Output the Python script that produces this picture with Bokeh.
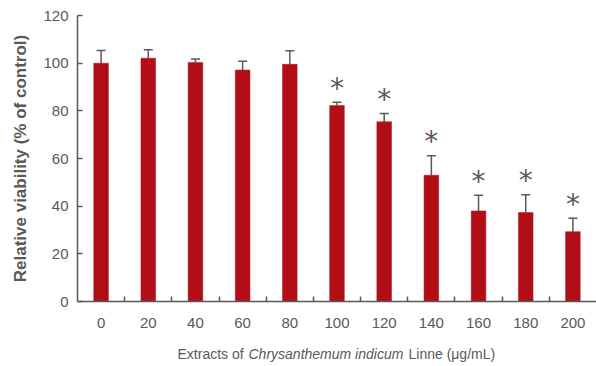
from bokeh.plotting import figure
from bokeh.layouts import column
from bokeh.models import Range1d, FixedTicker, Whisker, TeeHead, ColumnDataSource
from bokeh.core.properties import value
from bokeh.embed import file_html
from bokeh.resources import INLINE

# Cell viability after treatment with extract (mean, upper error)
concentrations = [0, 20, 40, 60, 80, 100, 120, 140, 160, 180, 200]
viability = [100.0, 102.1, 100.3, 97.1, 99.5, 82.2, 75.4, 53.0, 38.0, 37.3, 29.3]
error_top = [105.3, 105.6, 101.7, 100.8, 105.2, 83.6, 78.9, 61.2, 44.6, 44.8, 34.9]
significant = [False, False, False, False, False, True, True, True, True, True, True]
y_ticks = [0, 20, 40, 60, 80, 100, 120]

# x-axis title pieces: (text, style)
x_title = [("Extracts of", "normal"),
           ("Chrysanthemum indicum", "italic"),
           ("Linne (μg/mL)", "normal")]

BAR = "#B10E17"
GREY = "#595959"
FONT = "Liberation Sans"

src = ColumnDataSource(dict(x=concentrations, top=viability, upper=error_top))
star_src = ColumnDataSource(dict(
    x=[c for c, s in zip(concentrations, significant) if s],
    y=[u for u, s in zip(error_top, significant) if s],
    t=["*" for s in significant if s],
))

p = figure(width=596, height=330, output_backend="svg", toolbar_location=None,
           x_range=Range1d(-10, 210), y_range=Range1d(0, 120),
           min_border_left=77, min_border_right=0, min_border_top=15,
           min_border_bottom=28)
p.outline_line_color = None
p.xgrid.visible = False
p.ygrid.visible = False
p.background_fill_color = "white"
p.border_fill_color = "white"

p.vbar(x="x", top="top", bottom=0, width=6.2, source=src,
       fill_color=BAR, line_color=BAR, line_width=0.5)

p.add_layout(Whisker(source=src, base="x", upper="upper", lower="top",
                     line_color=GREY, line_width=1.5,
                     upper_head=TeeHead(size=9, line_color=GREY, line_width=1.5),
                     lower_head=None))

p.text(x="x", y="y", text="t", source=star_src, text_align="center",
       text_baseline="alphabetic", y_offset=-14, text_color=GREY,
       text_font=value("DejaVu Sans"), text_font_size="28px")

# x axis: labels at each concentration, ticks between the bars
xa = p.xaxis[0]
xa.ticker = FixedTicker(ticks=concentrations,
                        minor_ticks=[c + 10 for c in concentrations[:-1]])
xa.major_tick_in = 0
xa.major_tick_out = 0
xa.minor_tick_in = 5
xa.minor_tick_out = 0
xa.minor_tick_line_color = GREY
xa.minor_tick_line_width = 1.5
xa.axis_line_color = GREY
xa.axis_line_width = 1.5
xa.major_label_text_color = GREY
xa.major_label_text_font = FONT
xa.major_label_text_font_size = "15px"
xa.major_label_standoff = 16

ya = p.yaxis[0]
ya.ticker = FixedTicker(ticks=y_ticks)
ya.major_tick_in = 5
ya.major_tick_out = 0
ya.minor_tick_line_color = None
ya.major_tick_line_color = GREY
ya.major_tick_line_width = 1.5
ya.axis_line_color = GREY
ya.axis_line_width = 1.5
ya.major_label_text_color = GREY
ya.major_label_text_font = FONT
ya.major_label_text_font_size = "15px"
ya.major_label_standoff = 9
ya.axis_label = "Relative viability (% of control)"
ya.axis_label_text_font = FONT
ya.axis_label_text_font_style = "bold"
ya.axis_label_text_font_size = "17px"
ya.axis_label_text_color = GREY
ya.axis_label_standoff = 10

# strip under the chart carrying the x-axis title; its frame lines up with
# the chart's frame, so the range is given in page pixels (77..596)
t = figure(width=596, height=36, output_backend="svg", toolbar_location=None,
           x_range=Range1d(77, 596), y_range=Range1d(0, 36),
           x_axis_type=None, y_axis_type=None,
           min_border_left=0, min_border_right=0, min_border_top=0,
           min_border_bottom=0)
t.outline_line_color = None
t.xgrid.visible = False
t.ygrid.visible = False
t.background_fill_color = "white"
t.border_fill_color = "white"

starts = [177, 248, 408]
for (txt, style), xpos in zip(x_title, starts):
    t.text(x=[xpos], y=[13], text=[txt], text_align="left",
           text_baseline="middle", text_color=GREY,
           text_font=value(FONT), text_font_style=style,
           text_font_size="14px")

layout = column(p, t, spacing=0)
open("out.html", "w").write(file_html(layout, INLINE))
